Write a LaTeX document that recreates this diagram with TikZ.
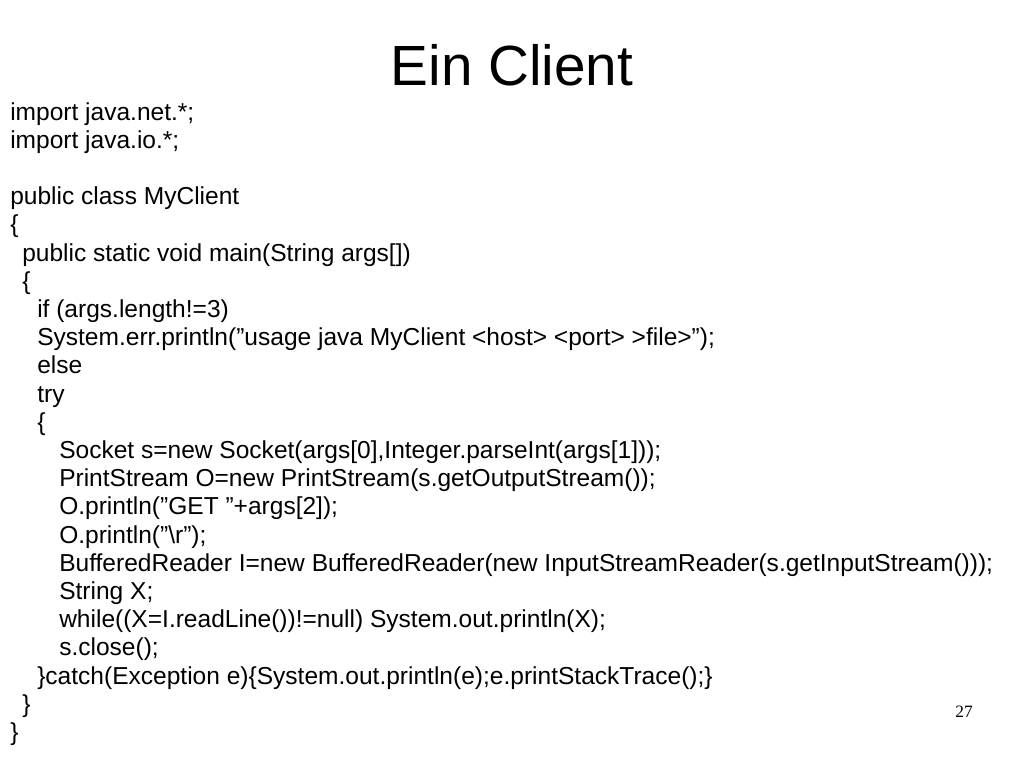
\documentclass[tikz,border=0pt]{standalone}
\usepackage{fontspec}
\setmainfont{Liberation Sans}
\newfontfamily\serifnum{Liberation Serif}
\newcommand\qq{\symbol{34}}
\begin{document}
\begin{tikzpicture}[x=0.75pt,y=-0.75pt,
  codeline/.style={anchor=base west,inner sep=0pt,font=\fontsize{18.4pt}{21pt}\selectfont}]
\useasboundingbox (0,0) rectangle (1024,768);
\node[font=\fontsize{42.5pt}{48pt}\selectfont,inner sep=0pt,anchor=base] (title) at (512,85) {Ein Client};
\def\B{120}
\foreach \i/\xx/\t in {
0/10/{import java.net.*;},
1/10/{import java.io.*;},
3/10/{public class MyClient},
4/10/{\{},
5/22/{public static void main(String args[])},
6/22/{\{},
7/37/{if (args.length!=3)},
8/37/{System.err.println(\qq usage java MyClient <host> <port> >file>\qq);},
9/37/{else},
10/37/{try},
11/37/{\{},
12/59/{Socket s=new Socket(args[0],Integer.parseInt(args[1]));},
13/59/{PrintStream O=new PrintStream(s.getOutputStream());},
14/59/{O.println(\qq GET \qq+args[2]);},
15/59/{O.println(\qq\textbackslash r\qq);},
16/59/{BufferedReader I=new BufferedReader(new InputStreamReader(s.getInputStream()));},
17/59/{String X;},
18/59/{while((X=I.readLine())!=null) System.out.println(X);},
19/59/{s.close();},
20/37/{\}catch(Exception e)\{System.out.println(e);e.printStackTrace();\}},
21/22/{\}},
22/10/{\}}}
  \node[codeline] (l\i) at (\xx,{\B+28.2*\i}) {\t};
\node[anchor=base east,inner sep=0pt,font=\serifnum\fontsize{13pt}{15pt}\selectfont] (pg) at (973,717) {27};
\end{tikzpicture}
\end{document}
